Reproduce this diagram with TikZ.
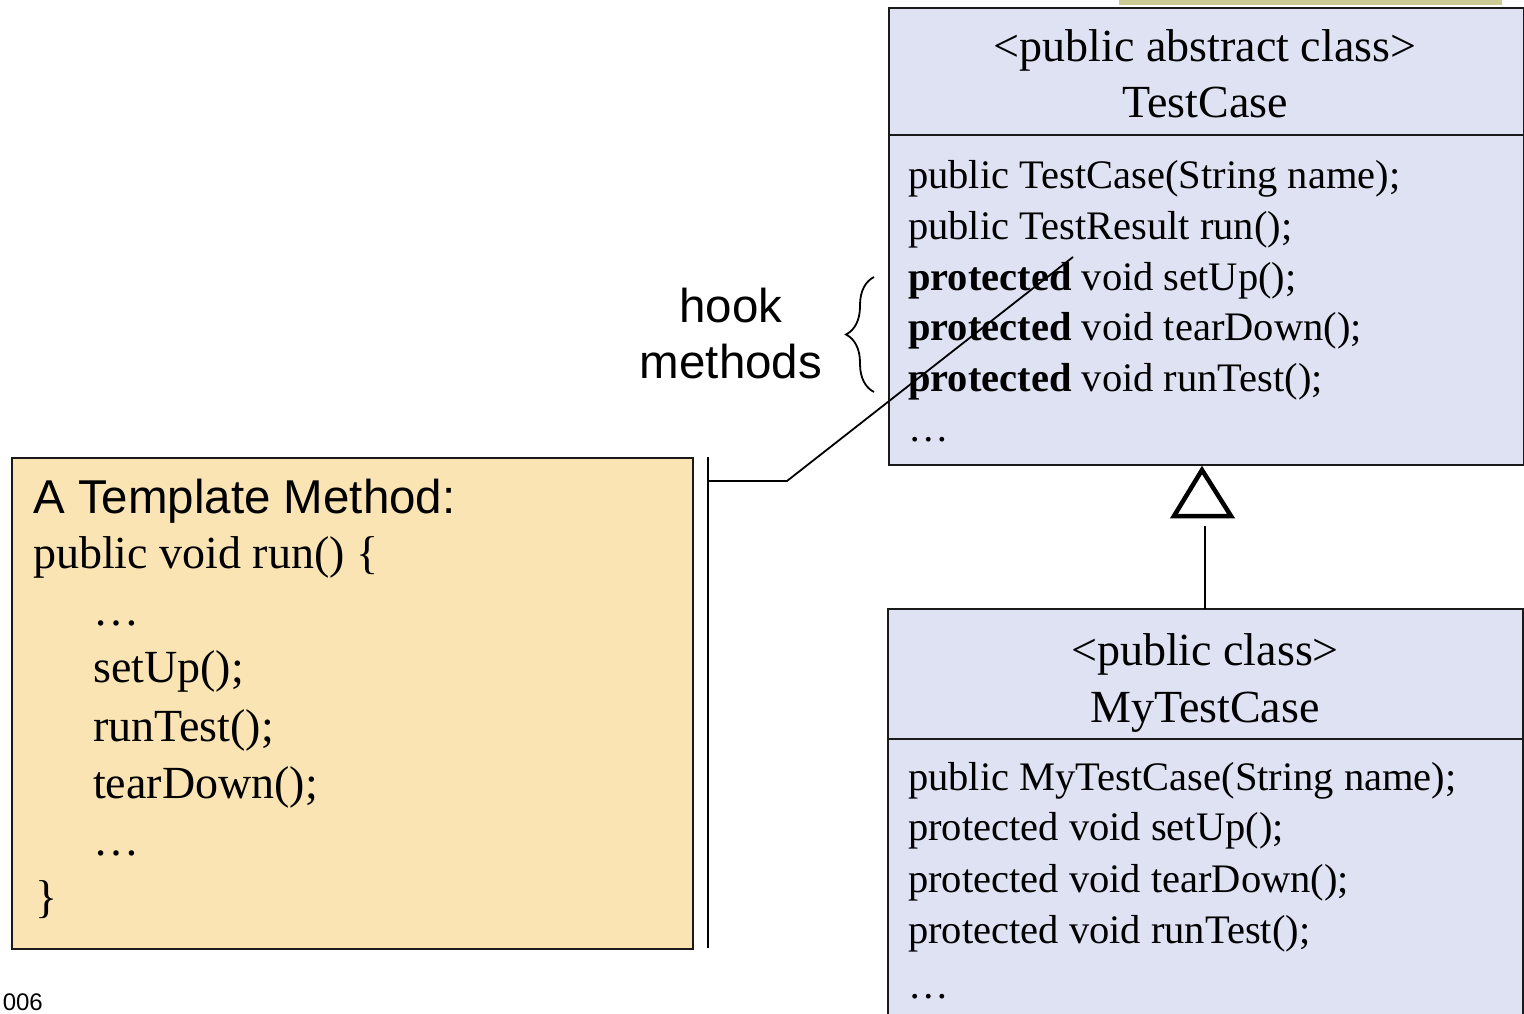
\documentclass[tikz,border=0pt]{standalone}
\usepackage{fontspec}
\setmainfont{Liberation Serif}
\setsansfont{Liberation Sans}
\usetikzlibrary{decorations.pathreplacing}
\definecolor{classfill}{HTML}{DFE2F2}
\definecolor{notefill}{HTML}{FAE4B3}
\definecolor{barolive}{HTML}{CCCB96}
\definecolor{edge}{HTML}{1A1A1A}
\begin{document}
\begin{tikzpicture}[x=1pt,y=-1pt,
  classbox/.style={draw=edge, line width=2pt, fill=classfill, inner sep=0, anchor=north west},
  notebox/.style={draw=edge, line width=2pt, fill=notefill, inner sep=0, anchor=north west},
  member/.style={anchor=base west, inner sep=0, font=\fontsize{40.5}{40.5}\selectfont},
  classname/.style={anchor=base, inner sep=0, font=\fontsize{46}{46}\selectfont},
  codeline/.style={anchor=base west, inner sep=0, font=\fontsize{46}{46}\selectfont},
  label/.style={anchor=base, inner sep=0, font=\sffamily\fontsize{47.5}{47.5}\selectfont},
  link/.style={draw=black, line width=1.8pt},
]
\useasboundingbox (0,0) rectangle (1524,1014);

% strip along the top edge
\fill[barolive] (1119,0) rectangle (1502,5);

% abstract class TestCase
\node[classbox, minimum width=635pt, minimum height=457pt] (testcase) at (888,7) {};
\draw[edge, line width=2pt] (testcase.west |- 0,135) -- (testcase.east |- 0,135);
\node[classname] (tctitle) at (1205,62) {<public abstract class>};
\node[classname] (tcname) at (1205,118) {TestCase};
\node[member] (tc1) at (908,189) {public TestCase(String name);};
\node[member] (tc2) at (908,239.5) {public TestResult run();};
\node[member] (tc3) at (908,290) {\textbf{protected} void setUp();};
\node[member] (tc4) at (908,340.5) {\textbf{protected} void tearDown();};
\node[member] (tc5) at (908,391) {\textbf{protected} void runTest();};
\node[member] (tc6) at (908,441.5) {\dots};

% concrete class MyTestCase (continues past the lower edge)
\node[inner sep=0, anchor=north west, fill=classfill, minimum width=635pt, minimum height=405pt] (mytc) at (888,609) {};
\draw[edge, line width=2pt] (mytc.south west) -- (mytc.north west) -- (mytc.north east) -- (mytc.south east);
\draw[edge, line width=2pt] (mytc.west |- 0,739) -- (mytc.east |- 0,739);
\node[classname] (mytitle) at (1205,665) {<public class>};
\node[classname] (myname) at (1205,722) {MyTestCase};
\node[member] (my1) at (908,790) {public MyTestCase(String name);};
\node[member] (my2) at (908,840) {protected void setUp();};
\node[member] (my3) at (908,892) {protected void tearDown();};
\node[member] (my4) at (908,943) {protected void runTest();};
\node[member] (my5) at (908,998) {\dots};

% generalization: hollow triangle under TestCase, line up from MyTestCase
\coordinate (triapex) at (1202,470);
\draw[black, line width=4.5pt, line join=miter, fill=white] (triapex) -- (1231,516) -- (1174,516) -- cycle;
\draw[link] (mytc.north -| 1205,0) -- (1205,526);

% template method note
\node[notebox, minimum width=681pt, minimum height=491pt] (note) at (11,457) {};
\node[anchor=base west, inner sep=0, font=\sffamily\fontsize{47.5}{47.5}\selectfont] (notehead) at (33,513) {A Template Method:};
\node[codeline] (c1) at (33,568) {public void run() \{};
\node[codeline] (c2) at (93,625) {\dots};
\node[codeline] (c3) at (93,682) {setUp();};
\node[codeline] (c4) at (93,741) {runTest();};
\node[codeline] (c5) at (93,798) {tearDown();};
\node[codeline] (c6) at (93,855) {\dots};
\node[codeline] (c7) at (35,912) {\}};

% callout from the note to the hook methods
\coordinate (bartop) at (708,457);
\coordinate (barbottom) at (708,948);
\coordinate (barmid) at (708,481);
\coordinate (elbow) at (787,481);
\coordinate (hookend) at (1073,257);
\draw[link] (bartop) -- (barbottom);
\draw[link] (barmid) -- (elbow) -- (hookend);

% brace grouping the hook methods
\draw[black, line width=1.8pt, decorate, decoration={brace, amplitude=28pt}] (874,392) -- (874,277);
\node[label] (hook1) at (731,322) {hook};
\node[label] (hook2) at (731,378) {methods};

% page number
\node[anchor=base east, inner sep=0, font=\sffamily\fontsize{24}{24}\selectfont] (pageno) at (43,1010) {006};
\end{tikzpicture}
\end{document}
